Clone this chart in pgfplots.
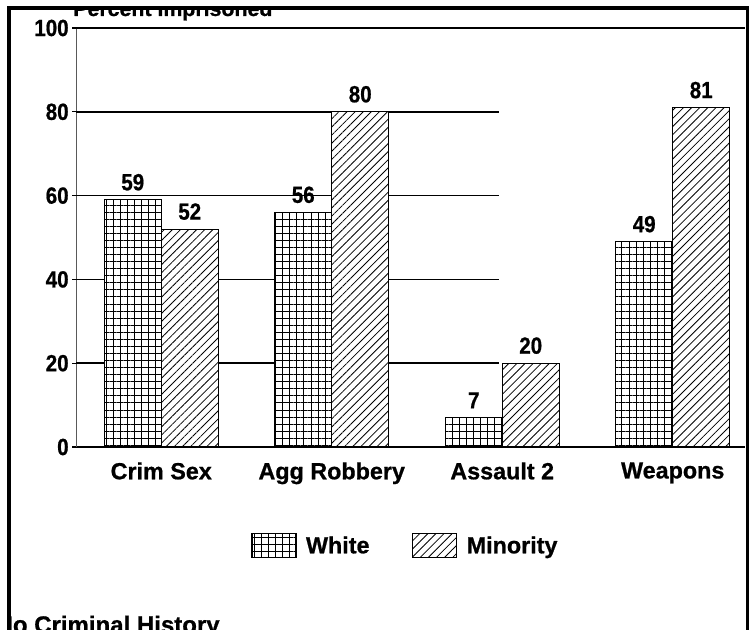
\documentclass[border=0pt]{standalone}
\usepackage{fontspec}
\setmainfont{Liberation Sans}[BoldFeatures={FakeBold=0.8}]
\newfontfamily\condf{Liberation Sans}[FakeStretch=0.88, BoldFeatures={FakeBold=0.8}]
\usepackage{pgfplots}
\pgfplotsset{compat=1.18}
\usetikzlibrary{patterns.meta}
\newcommand{\lf}{\bfseries\fontsize{17.5}{20}\selectfont}
\newcommand{\tf}{\condf\bfseries\fontsize{17.5}{20}\selectfont}
\tikzset{
 whitebar/.style={draw=black, line width=0.9pt, fill=white, postaction={pattern={Hatch[angle=0,distance=5.3pt,line width=0.6pt]}}},
 minbar/.style={draw=black, line width=0.9pt, fill=white, postaction={pattern={Lines[angle=45,distance=4.3pt,line width=0.6pt]}}},
}
\pgfplotsset{boxlegend/.style={legend image code/.code={\draw[##1] (0pt,-9pt) rectangle (33pt,9pt);}}}
\begin{document}
\begin{tikzpicture}
\begin{scope}
\clip (6.75pt,-20pt) rectangle (560.6pt,465.75pt);
\begin{axis}[at={(57pt,136.5pt)}, anchor=south west, scale only axis,
  width=501.75pt, height=314.25pt,
  xmin=-0.5, xmax=3.424, ymin=0, ymax=100,
  ybar=0pt, bar width=42.75pt,
  axis x line*=bottom, axis y line*=left,
  x axis line style={line width=1.5pt},
  y axis line style={line width=0.6pt, gray!70!black},
  xtick={0,1,2,3}, xticklabels={Crim Sex, Agg Robbery, Assault 2, Weapons},
  xtick style={draw=none},
  ytick={0,20,40,60,80,100},
  ytick style={line width=0.8pt, black},
  tick align=outside, major tick length=3pt,
  xticklabel style={font=\lf, yshift=-5pt},
  yticklabel style={font=\tf, xshift=1pt},
  /pgf/number format/assume math mode=true,
  legend style={draw=none, fill=none, at={(0.493,-0.236)}, anchor=center,
    legend columns=2, font=\lf,
    /tikz/every odd column/.append style={column sep=5pt},
    /tikz/every even column/.append style={column sep=30pt}},
  clip=false,
]
\draw[line width=1.1pt] (axis cs:-0.5,20) -- (axis cs:1.98,20);
\draw[line width=1.1pt] (axis cs:-0.5,40) -- (axis cs:1.98,40);
\draw[line width=1.1pt] (axis cs:-0.5,60) -- (axis cs:1.98,60);
\draw[line width=1.1pt] (axis cs:-0.5,80) -- (axis cs:1.98,80);
\draw[line width=1.1pt] (rel axis cs:0,1) -- (rel axis cs:1,1);
\addplot[whitebar, boxlegend, nodes near coords, nodes near coords style={font=\tf, anchor=south, inner sep=0pt, yshift=6.5pt, black}]
  coordinates {(0,59) (1,56) (2,7) (3,49)};
\addlegendentry{White}
\addplot[minbar, boxlegend, nodes near coords, nodes near coords style={font=\tf, anchor=south, inner sep=0pt, yshift=6.5pt, black}]
  coordinates {(0,52) (1,80) (2,20) (3,81)};
\addlegendentry{Minority}
\end{axis}
\node[anchor=base west, font=\bfseries\fontsize{16}{19}\selectfont, inner sep=0pt] at (54.75pt,459.75pt) {Percent Imprisoned};
\node[anchor=base west, font=\bfseries\fontsize{18}{20}\selectfont, inner sep=0pt] at (-3.5pt,-3pt) {No Criminal History};
\end{scope}
\draw[line width=2.3pt] (6.75pt,-20pt) -- (6.75pt,465.75pt) -- (560.6pt,465.75pt) -- (560.6pt,-20pt);
\pgfresetboundingbox
\useasboundingbox (0,0) rectangle (564.75pt,471.75pt);
\end{tikzpicture}
\end{document}
